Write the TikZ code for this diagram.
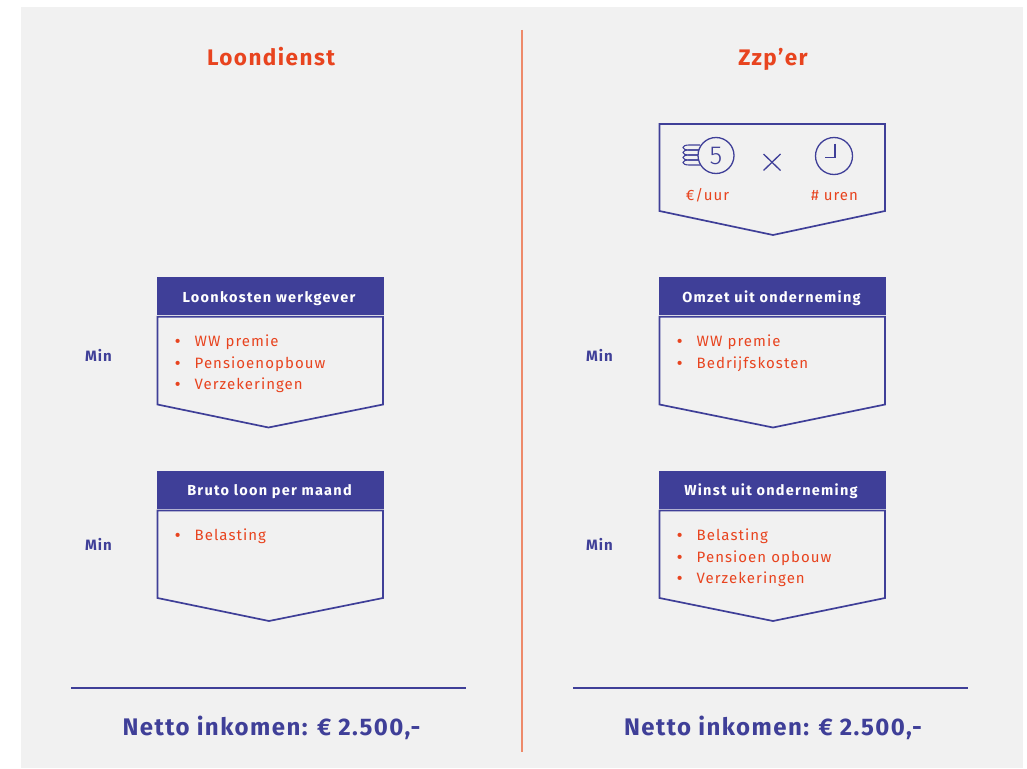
\documentclass[tikz,border=0pt]{standalone}
\usepackage{fontspec}
\setmainfont{Fira Sans}
\newfontfamily\fntT[LetterSpace=6.4]{Fira Sans}
\newfontfamily\fntH[LetterSpace=8.7]{Fira Sans}
\newfontfamily\fntI[LetterSpace=7]{Fira Sans}
\newfontfamily\fntM[LetterSpace=7]{Fira Sans}
\newfontfamily\fntN[LetterSpace=6]{Fira Sans}
\newfontfamily\fntL{Fira Sans Light}
\definecolor{bgg}{HTML}{F1F1F1}
\definecolor{ind}{HTML}{3F3F98}
\definecolor{org}{HTML}{E8441F}
\definecolor{vln}{HTML}{EE8A6A}
\tikzset{
  x=1pt,y=-1pt,
  title/.style={font=\fntT\fontsize{22.5}{24}\selectfont\bfseries,text=org,inner sep=0,anchor=base},
  head/.style={fill=ind,minimum width=227,minimum height=38.5,inner sep=0},
  headt/.style={text=white,inner sep=0,anchor=base,font=\fntH\fontsize{14.5}{16}\selectfont\bfseries},
  item/.style={font=\fntI\fontsize{15}{16}\selectfont,text=org,anchor=base west,inner sep=0},
  bul/.style={font=\fontsize{15}{16}\selectfont\bfseries,text=org,anchor=base west,inner sep=0},
  minl/.style={font=\fntM\fontsize{15}{16}\selectfont\bfseries,text=ind,inner sep=0,anchor=base},
  net/.style={font=\fntN\fontsize{24}{26}\selectfont\bfseries,text=ind,inner sep=0,anchor=base},
  box/.style={draw=ind,line width=1.7,line join=miter},
  rule/.style={draw=ind,line width=1.7},
  ico/.style={draw=ind,line width=1.3},
  small/.style={font=\fntI\fontsize{15}{16}\selectfont,text=org,inner sep=0,anchor=base}
}
\newcommand{\pent}[5]{% left x, top y, shoulder y, tip y, tip x
  \draw[box] (#1,#2) -- (#1+225.5,#2) -- (#1+225.5,#3) -- (#5,#4) -- (#1,#3) -- cycle;}
\newcommand{\bulitem}[4]{% name, x, baseline y, text
  \node[bul] (#1b) at (#2,#3) {•};
  \node[item] (#1) at (#2+19.5,#3) {#4};}
\begin{document}
\begin{tikzpicture}
\useasboundingbox (0,0) rectangle (1027,768);
\fill[white] (0,0) rectangle (1027,768);
\fill[bgg] (21,7) rectangle (1023,768);
\coordinate (divt) at (522,30); \coordinate (divb) at (522,752);
\draw[draw=vln,line width=1.2] (divt) -- (divb);

\node[title] (t1) at (271,65) {Loondienst};
\node[title] (t2) at (773,65) {Zzp’er};

% top right box
\pent{659.5}{124}{211}{235}{773}
% coins
\foreach \yy in {145,150,155,160}{
  \draw[ico,line width=1.1] (700,\yy) -- (689,\yy) .. controls (681,\yy) and (681,\yy+5) .. (689,\yy+5) -- (700,\yy+5);
}
\node[draw=ind,line width=1.3,fill=bgg,circle,minimum size=36,inner sep=0,font=\fntL\fontsize{26}{28}\selectfont,text=ind] (coin) at (716,155.5) {5};
\node[circle,draw=ind,line width=1.3,minimum size=37,inner sep=0] (clock) at (834,156) {};
\draw[ico] (835,143.5) -- (835,157.5) -- (825,157.5);
\draw[ico] (763.5,154) -- (780.5,170.5);
\draw[ico] (780.5,154) -- (763.5,170.5);
\node[small] (e1) at (707.5,200) {€/uur};
\node[small] (e2) at (834.5,200) {\# uren};

% Left column
\node[head] (h1) at (270.5,296.2) {};
\node[headt] (h1t) at (269,302) {Loonkosten werkgever};
\pent{157.5}{316.7}{404.5}{427.5}{268.5}
\bulitem{a1}{175}{346.5}{WW premie}
\bulitem{a2}{175}{368}{Pensioenopbouw}
\bulitem{a3}{175}{389.5}{Verzekeringen}
\node[minl] (m1) at (98.5,361) {Min};

\node[head] (h2) at (270.5,490.2) {};
\node[headt] (h2t) at (269.5,495.5) {Bruto loon per maand};
\pent{157.5}{510.5}{598}{621}{269}
\bulitem{b1}{175}{540}{Belasting}
\node[minl] (m2) at (98.5,550) {Min};

% Right column
\node[head] (h3) at (772.5,296.2) {};
\node[headt] (h3t) at (771.5,302) {Omzet uit onderneming};
\pent{659.5}{316.7}{404.5}{427.5}{773}
\bulitem{c1}{677}{346.5}{WW premie}
\bulitem{c2}{677}{368}{Bedrijfskosten}
\node[minl] (m3) at (599.5,361) {Min};

\node[head] (h4) at (772.5,490.2) {};
\node[headt] (h4t) at (771,495.5) {Winst uit onderneming};
\pent{659.5}{510.5}{598}{621}{773}
\bulitem{d1}{677}{540}{Belasting}
\bulitem{d2}{677}{562}{Pensioen opbouw}
\bulitem{d3}{677}{583}{Verzekeringen}
\node[minl] (m4) at (599.5,550) {Min};

% Bottom
\coordinate (r1a) at (71,688); \coordinate (r1b) at (466,688);
\coordinate (r2a) at (573,688); \coordinate (r2b) at (968,688);
\draw[rule] (r1a) -- (r1b);
\draw[rule] (r2a) -- (r2b);
\node[net] (n1) at (271.5,735.5) {Netto inkomen: € 2.500,-};
\node[net] (n2) at (773,735.5) {Netto inkomen: € 2.500,-};
\end{tikzpicture}
\end{document}
